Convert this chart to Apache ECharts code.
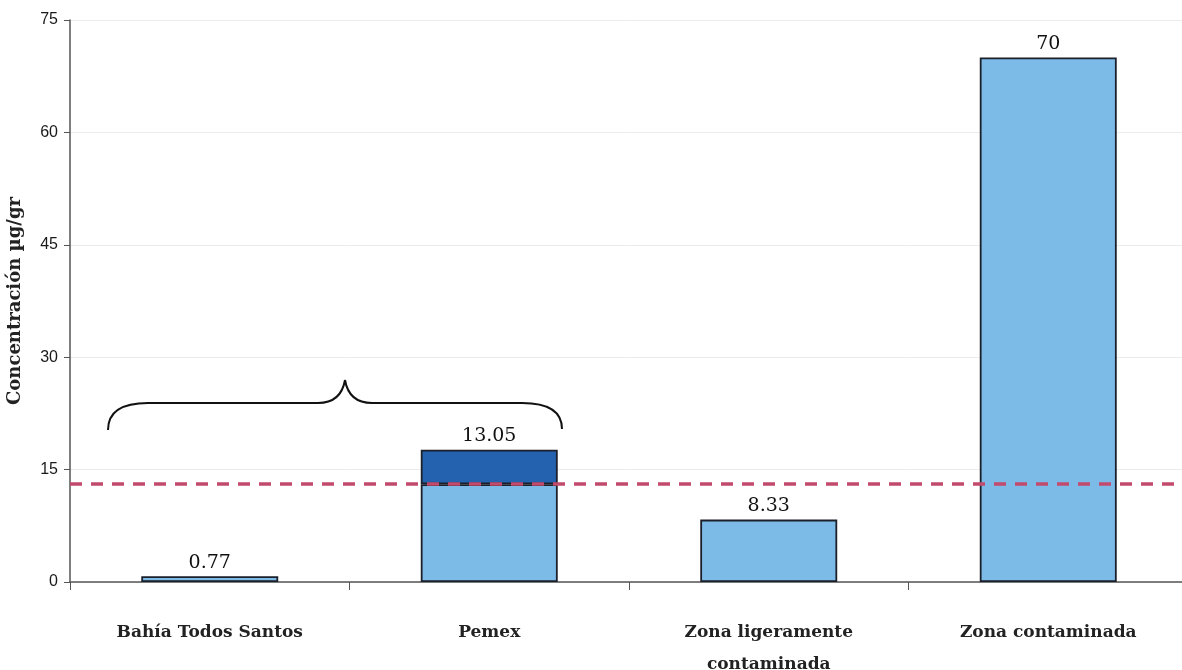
<!DOCTYPE html>
<html>
<head>
<meta charset="utf-8">
<script src="https://cdn.jsdelivr.net/npm/echarts@6/dist/echarts.min.js"></script>
<style>
  html, body { margin: 0; padding: 0; background: #ffffff; }
  #chart { width: 1182px; height: 670px; }
</style>
</head>
<body>
<div id="chart"></div>
<script>
// Sampling zones and measured concentrations (µg/gr)
const categories = ['Bahía Todos Santos', 'Pemex', 'Zona ligeramente\ncontaminada', 'Zona contaminada'];
const baseValues = [0.77, 13.05, 8.33, 70];
// Extra portion stacked on top of the Pemex bar
const extraValues = [null, 4.6, null, null];
// Reference threshold drawn as a dashed line
const thresholdValue = 13.05;
// Y axis scale
const yMin = 0, yMax = 75, yStep = 15;

const serif = '"DejaVu Serif", "Liberation Serif", serif';
const chart = echarts.init(document.getElementById('chart'));

chart.setOption({
  animation: false,
  backgroundColor: '#ffffff',
  grid: { left: 70, right: -6, top: 20, bottom: 88, containLabel: false, outerBoundsMode: 'none' },
  xAxis: {
    type: 'category',
    data: categories,
    axisLine: { lineStyle: { color: '#555', width: 1.5 } },
    axisTick: { show: true, alignWithLabel: false, length: 8, lineStyle: { color: '#555' } },
    axisLabel: {
      color: '#222', fontFamily: serif, fontWeight: 'bold', fontSize: 17,
      margin: 35, lineHeight: 32, interval: 0, verticalAlign: 'top'
    }
  },
  yAxis: {
    type: 'value',
    min: yMin, max: yMax, interval: yStep,
    name: 'Concentración µg/gr',
    nameLocation: 'middle',
    nameGap: 46,
    nameTextStyle: { color: '#222', fontFamily: serif, fontWeight: 'bold', fontSize: 18 },
    axisLine: { show: true, lineStyle: { color: '#555', width: 1.5 } },
    axisTick: { show: true, length: 6, lineStyle: { color: '#555' } },
    axisLabel: { color: '#1a1a1a', fontFamily: 'Arial, "Liberation Sans", sans-serif', fontSize: 16, margin: 12 },
    splitLine: { lineStyle: { color: '#ececec', width: 1 } }
  },
  series: [
    {
      name: 'base',
      type: 'bar',
      stack: 'total',
      barWidth: '49%',
      data: baseValues.map((v, i) => ({
        value: v,
        label: { show: extraValues[i] == null }
      })),
      itemStyle: { color: '#7cbbe8', borderColor: '#1b1f2a', borderWidth: 1.8 },
      label: {
        position: 'top', distance: 4, color: '#111',
        fontFamily: serif, fontSize: 19
      },
      markLine: {
        symbol: 'none',
        silent: true,
        label: { show: false },
        lineStyle: { color: '#c24a6c', type: [12, 9], width: 3.5 },
        data: [{ yAxis: thresholdValue }]
      }
    },
    {
      name: 'extra',
      type: 'bar',
      stack: 'total',
      barWidth: '49%',
      data: extraValues,
      itemStyle: { color: '#2462b0', borderColor: '#1b1f2a', borderWidth: 1.8 },
      label: {
        show: true, position: 'top', distance: 4, color: '#111',
        fontFamily: serif, fontSize: 19,
        formatter: p => String(baseValues[p.dataIndex])
      }
    }
  ]
});

// Curly brace grouping the first two zones, built from curves and straight segments
const braceStyle = { fill: 'none', stroke: '#111', lineWidth: 2 };
const braceParts = [
  { type: 'bezierCurve', shape: { x1: 108, y1: 430, x2: 148, y2: 403, cpx1: 108, cpy1: 403 } },
  { type: 'line', shape: { x1: 148, y1: 403, x2: 318, y2: 403 } },
  { type: 'bezierCurve', shape: { x1: 318, y1: 403, x2: 345, y2: 380, cpx1: 341, cpy1: 403 } },
  { type: 'bezierCurve', shape: { x1: 345, y1: 380, x2: 372, y2: 403, cpx1: 349, cpy1: 403 } },
  { type: 'line', shape: { x1: 372, y1: 403, x2: 522, y2: 403 } },
  { type: 'bezierCurve', shape: { x1: 522, y1: 403, x2: 562, y2: 429, cpx1: 562, cpy1: 403 } }
].map(p => Object.assign(p, { silent: true, style: braceStyle }));
chart.setOption({ graphic: braceParts });
</script>
</body>
</html>
